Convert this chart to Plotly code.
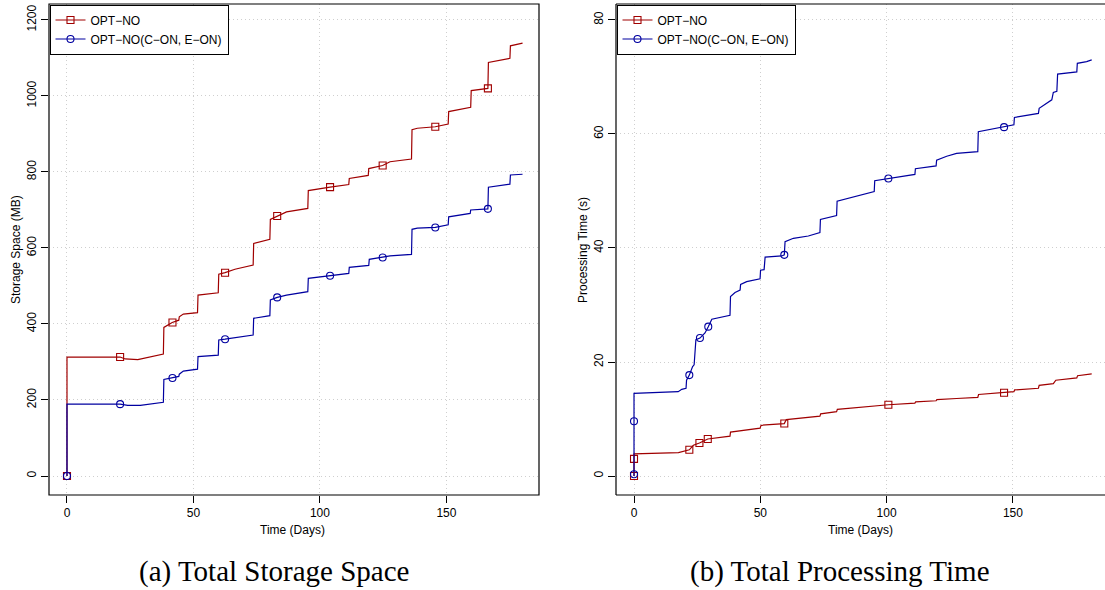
import plotly.graph_objects as go

# ---------------- data ----------------
# (a) Total Storage Space (MB)
storage_days_opt = [0, 0, 21, 23, 28, 38.1, 38.3, 41.6, 44.2, 44.4, 46, 51.6, 51.8, 59.8, 60, 62.5, 66.4,
                    73.6, 73.8, 80.2, 80.4, 83.1, 86.8, 95.2, 95.4, 104, 111.4, 111.6, 119.1, 119.3, 124.8,
                    127.7, 136.2, 136.4, 138.5, 145.6, 150.7, 150.9, 159.6, 159.8, 166.4, 166.6, 175.1,
                    175.3, 180.1]
storage_opt = [0, 313, 313, 308, 306, 321, 391, 404, 410, 419, 426, 430, 476, 482, 531, 535, 544,
               555, 612, 623, 675, 684, 695, 704, 751, 760, 767, 783, 791, 809, 817,
               827, 834, 911, 915, 919, 926, 959, 970, 1014, 1020, 1088, 1099,
               1132, 1139]
storage_days_con = [0, 0, 21, 24, 29, 38.1, 38.3, 41.8, 44.2, 44.4, 46, 51.6, 51.8, 59.8, 60, 62.5, 71,
                    73.6, 73.8, 80.2, 80.4, 83.1, 86.8, 95.2, 95.4, 104, 111.4, 111.6, 119.3, 119.5, 124.8,
                    127.7, 136.2, 136.4, 138.5, 145.6, 150.7, 150.9, 159.4, 159.6, 166.4, 166.6, 175.1,
                    175.3, 180.1]
storage_con = [0, 189, 189, 186, 186, 194, 254, 258, 262, 268, 276, 281, 314, 318, 358, 360, 368,
               371, 415, 422, 463, 470, 476, 485, 520, 527, 533, 549, 554, 570, 575,
               579, 583, 649, 652, 654, 661, 682, 691, 700, 703, 760, 768,
               792, 794]
storage_mark_days = [0, 21, 41.7, 62.5, 83.1, 104, 124.8, 145.6, 166.4]
storage_mark_opt = [0, 313, 404, 535, 684, 760, 817, 919, 1020]
storage_mark_con = [0, 189, 258, 360, 470, 527, 575, 654, 703]

# (b) Total Processing Time (s)
proc_days_opt = [0, 0, 0, 17.6, 21.9, 23.5, 25.9, 29.2, 38, 38.2, 49.9, 50.3, 59.5, 60.3, 73.6,
                 73.9, 80.2, 80.5, 89.5, 95.3, 95.6, 100.7, 111.2, 111.5, 119.6, 119.9, 127.7, 136.1,
                 136.4, 146.5, 150.4, 150.7, 160.1, 160.4, 166, 167, 175.3, 175.6, 181.2]
proc_opt = [0, 3.0, 3.9, 4.1, 4.6, 5.4, 5.8, 6.5, 7.0, 7.7, 8.4, 8.9, 9.2, 9.9, 10.5,
            10.9, 11.3, 11.7, 12.1, 12.3, 12.4, 12.5, 12.8, 13.0, 13.2, 13.4, 13.6, 13.8,
            14.3, 14.6, 14.8, 15.1, 15.4, 15.9, 16.2, 16.8, 17.2, 17.6, 17.9]
proc_days_con = [0, 0, 0, 17.5, 18.9, 20.6, 20.8, 21.9, 23.2, 23.8, 24.5, 26.1, 28.1, 29.4, 30.8,
                 38, 38.2, 40, 42, 42.2, 44.6, 49.9, 50.1, 51.5, 51.9, 58.5, 59.5, 59.8, 63.1, 69,
                 73.6, 73.8, 80.2, 80.4, 86.8, 89.5, 95.1, 95.3, 100.7, 111.2, 111.4, 119.6, 119.8,
                 123.8, 127.7, 136.1, 136.3, 146.5, 150.4, 150.6, 160.1, 160.4, 165.4, 166, 167.4,
                 167.7, 175.3, 175.5, 179.2, 181.2]
proc_con = [0, 9.6, 14.5, 14.8, 15.2, 15.4, 16.8, 17.7, 19.2, 19.5, 23.9, 24.2, 25.1, 26.2, 27.5,
            28.2, 31.5, 32.2, 32.6, 33.6, 34.1, 34.6, 36.1, 36.2, 38.4, 38.6, 38.8, 41.1, 41.7, 42.1,
            42.7, 45.0, 45.7, 48.2, 48.9, 49.3, 49.9, 51.8, 52.2, 52.9, 53.9, 54.4, 55.4,
            56.1, 56.6, 56.9, 60.4, 61.2, 61.6, 62.9, 63.6, 64.5, 66.0, 67.3, 67.5,
            70.5, 70.9, 72.4, 72.7, 73.0]
proc_mark_days_opt = [0, 0, 21.9, 25.9, 29.2, 59.5, 100.7, 146.5]
proc_mark_opt = [0, 3.0, 4.6, 5.8, 6.5, 9.2, 12.5, 14.6]
proc_mark_days_con = [0, 0, 21.9, 26.1, 29.4, 59.5, 100.7, 146.5]
proc_mark_con = [0.3, 9.6, 17.7, 24.2, 26.2, 38.8, 52.2, 61.2]

series_names = ["OPT\u2212NO", "OPT\u2212NO(C\u2212ON, E\u2212ON)"]
x_ticks = [0, 50, 100, 150]
storage_ticks = [0, 200, 400, 600, 800, 1000, 1200]
proc_ticks = [0, 20, 40, 60, 80]
captions = ["(a) Total Storage Space", "(b) Total Processing Time"]
x_title = "Time (Days)"
y_titles = ["Storage Space (MB)", "Processing Time (s)"]

# ---------------- style ----------------
W, H = 1105, 590
RED = "#A00000"
BLUE = "#0000A0"
SANS = "Liberation Sans, Arial, sans-serif"
SERIF = "Liberation Serif, Times New Roman, serif"

def px(xp):
    return xp / W

def py(yp):
    return 1 - yp / H

L1, R1 = 49, 539
L2, R2 = 616, 1105
TOP, BOT = 4, 495

fig = go.Figure()

def add_series(days, vals, mdays, mvals, color, symbol, name, xa, ya, legend):
    fig.add_trace(go.Scatter(x=days, y=vals, mode="lines", line=dict(color=color, width=1.2),
                             showlegend=False, xaxis=xa, yaxis=ya, hoverinfo="skip"))
    fig.add_trace(go.Scatter(x=mdays, y=mvals, mode="markers",
                             marker=dict(symbol=symbol, size=7, color=color, line=dict(color=color, width=1.1)),
                             showlegend=False, xaxis=xa, yaxis=ya, hoverinfo="skip"))
    fig.add_trace(go.Scatter(x=[None], y=[None], mode="lines+markers", name=name,
                             line=dict(color=color, width=1.2),
                             marker=dict(symbol=symbol, size=7, color=color, line=dict(color=color, width=1.1)),
                             xaxis=xa, yaxis=ya, legend=legend))

add_series(storage_days_opt, storage_opt, storage_mark_days, storage_mark_opt, RED, "square-open",
           series_names[0], "x", "y", "legend")
add_series(storage_days_con, storage_con, storage_mark_days, storage_mark_con, BLUE, "circle-open",
           series_names[1], "x", "y", "legend")
add_series(proc_days_opt, proc_opt, proc_mark_days_opt, proc_mark_opt, RED, "square-open",
           series_names[0], "x2", "y2", "legend2")
add_series(proc_days_con, proc_con, proc_mark_days_con, proc_mark_con, BLUE, "circle-open",
           series_names[1], "x2", "y2", "legend2")

axis_common = dict(showline=False, zeroline=False, ticks="outside", ticklen=7, tickwidth=1,
                   tickcolor="black", showgrid=True, gridcolor="#cfcfcf", griddash="1px,3px", gridwidth=1,
                   tickfont=dict(family=SANS, size=12, color="black"), tickmode="array")

fig.update_layout(
    width=W, height=H, margin=dict(l=0, r=0, t=0, b=0),
    paper_bgcolor="white", plot_bgcolor="white",
    xaxis=dict(domain=[px(L1), px(R1)], range=[-7.11, 186.6], tickvals=x_ticks, anchor="y", **axis_common),
    yaxis=dict(domain=[py(BOT), py(TOP)], range=[-50, 1242], tickvals=storage_ticks, tickangle=-90,
               anchor="x", **axis_common),
    xaxis2=dict(domain=[px(L2), 1.0], range=[-7.13, 186.46], tickvals=x_ticks, anchor="y2", **axis_common),
    yaxis2=dict(domain=[py(BOT), py(TOP)], range=[-3.33, 82.8], tickvals=proc_ticks, tickangle=-90,
                anchor="x2", **axis_common),
    legend=dict(x=px(L1 + 0.5), y=py(TOP + 0.5), xanchor="left", yanchor="top", bgcolor="white",
                bordercolor="black", borderwidth=1, font=dict(family=SANS, size=12, color="black"),
                tracegroupgap=0, itemwidth=30),
    legend2=dict(x=px(L2 + 0.5), y=py(TOP + 0.5), xanchor="left", yanchor="top", bgcolor="white",
                 bordercolor="black", borderwidth=1, font=dict(family=SANS, size=12, color="black"),
                 tracegroupgap=0, itemwidth=30),
)

# frames (R style box); right panel is cut at the image edge
shapes = [
    dict(type="rect", xref="paper", yref="paper", x0=px(L1), x1=px(R1), y0=py(BOT), y1=py(TOP),
         line=dict(color="black", width=1.2), fillcolor="rgba(0,0,0,0)", layer="above"),
    dict(type="line", xref="paper", yref="paper", x0=px(L2), x1=px(L2), y0=py(BOT), y1=py(TOP),
         line=dict(color="black", width=1.2), layer="above"),
    dict(type="line", xref="paper", yref="paper", x0=px(L2), x1=1.0, y0=py(BOT), y1=py(BOT),
         line=dict(color="black", width=1.2), layer="above"),
    dict(type="line", xref="paper", yref="paper", x0=px(L2), x1=1.0, y0=py(TOP), y1=py(TOP),
         line=dict(color="black", width=1.2), layer="above"),
]
fig.update_layout(shapes=shapes)

ann = []
ann.append(dict(text=x_title, x=px(292), y=py(530), xref="paper", yref="paper",
                showarrow=False, xanchor="center", yanchor="middle",
                font=dict(family=SANS, size=12, color="black")))
ann.append(dict(text=x_title, x=px(860), y=py(530), xref="paper", yref="paper",
                showarrow=False, xanchor="center", yanchor="middle",
                font=dict(family=SANS, size=12, color="black")))
ann.append(dict(text=y_titles[0], x=px(16), y=py(250), xref="paper", yref="paper", showarrow=False,
                textangle=-90, xanchor="center", yanchor="middle", font=dict(family=SANS, size=12, color="black")))
ann.append(dict(text=y_titles[1], x=px(583), y=py(250), xref="paper", yref="paper", showarrow=False,
                textangle=-90, xanchor="center", yanchor="middle", font=dict(family=SANS, size=12, color="black")))
ann.append(dict(text=captions[0], x=px(274), y=py(571), xref="paper", yref="paper", showarrow=False,
                xanchor="center", yanchor="middle", font=dict(family=SERIF, size=29, color="black")))
ann.append(dict(text=captions[1], x=px(840), y=py(571), xref="paper", yref="paper", showarrow=False,
                xanchor="center", yanchor="middle", font=dict(family=SERIF, size=29, color="black")))
fig.update_layout(annotations=ann)

fig.write_html("out.html", config={"displayModeBar": False},
               post_script="document.body.style.margin='0px';document.body.style.padding='0px';")
